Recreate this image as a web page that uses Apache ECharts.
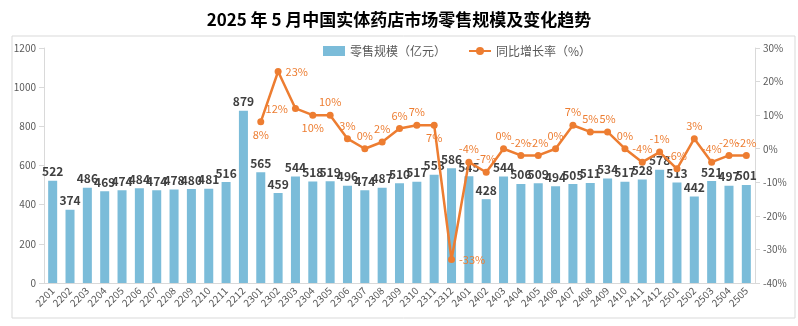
<!DOCTYPE html>
<html><head><meta charset="utf-8">
<script src="https://cdn.jsdelivr.net/npm/echarts@6/dist/echarts.min.js"></script>
<style>html,body{margin:0;padding:0;background:#fff}#c{width:798px;height:326px}</style>
</head><body><div id="c"></div>
<script>
const categories = ['2201','2202','2203','2204','2205','2206','2207','2208','2209','2210','2211','2212','2301','2302','2303','2304','2305','2306','2307','2308','2309','2310','2311','2312','2401','2402','2403','2404','2405','2406','2407','2408','2409','2410','2411','2412','2501','2502','2503','2504','2505'];
const retail = [522,374,486,469,474,484,474,478,480,481,516,879,565,459,544,518,519,496,474,487,510,517,553,586,545,428,544,506,509,494,505,511,534,517,528,578,513,442,521,497,501];
const growth = [null,null,null,null,null,null,null,null,null,null,null,null,8,23,12,10,10,3,0,2,6,7,7,-33,-4,-7,0,-2,-2,0,7,5,5,0,-4,-1,-6,3,-4,-2,-2];
const growthLabelPos = {12:'bottom',13:'right',14:'left',15:'bottom',16:'top',17:'top',18:'top',19:'top',20:'top',21:'top',22:'bottom',23:'right'};

const chart = echarts.init(document.getElementById('c'));
const font = '"Microsoft YaHei","Noto Sans CJK SC",sans-serif';
chart.setOption({
  animation:false,
  textStyle:{fontFamily:font},
  title:{text:'2025 年 5 月中国实体药店市场零售规模及变化趋势',left:'center',top:6,
    textStyle:{fontSize:17,fontWeight:'bold',color:'#000',fontFamily:font}},
  graphic:[{type:'rect',shape:{x:12,y:36,width:783,height:282},style:{fill:'none',stroke:'#d9d9d9',lineWidth:1},silent:true}],
  legend:{top:40,left:318,itemGap:22,itemWidth:22,itemHeight:10,
    textStyle:{fontSize:12,color:'#595959'},
    data:[{name:'零售规模（亿元）',icon:'rect'},{name:'同比增长率（%）'}]},
  grid:{left:44,right:43,top:48,bottom:43},
  xAxis:{type:'category',data:categories,
    axisLine:{lineStyle:{color:'#d9d9d9'}},axisTick:{show:false},
    axisLabel:{rotate:45,fontSize:10,color:'#595959',interval:0,margin:6}},
  yAxis:[
    {type:'value',min:0,max:1200,interval:200,splitLine:{show:false},
      axisLine:{show:true,lineStyle:{color:'#d9d9d9'}},axisTick:{show:true,lineStyle:{color:'#d9d9d9'}},
      axisLabel:{fontSize:10,color:'#595959',formatter:v=>String(v)}},
    {type:'value',min:-40,max:30,interval:10,splitLine:{show:false},
      axisLine:{show:true,lineStyle:{color:'#d9d9d9'}},axisTick:{show:true,lineStyle:{color:'#d9d9d9'}},
      axisLabel:{fontSize:10,color:'#595959',formatter:v=>v+'%'}}
  ],
  series:[
    {name:'零售规模（亿元）',type:'bar',data:retail,barWidth:'52%',
      itemStyle:{color:'#7bbcd9'},
      label:{show:true,position:'top',fontSize:12,fontWeight:'bold',color:'#404040',distance:3}},
    {name:'同比增长率（%）',type:'line',yAxisIndex:1,
      data:growth.map((v,i)=>v===null?null:{value:v,label:{position:growthLabelPos[i]||'top'}}),
      connectNulls:false,symbol:'circle',symbolSize:7,
      lineStyle:{color:'#ed7d31',width:2.5},itemStyle:{color:'#ed7d31'},
      label:{show:true,formatter:'{c}%',fontSize:11,color:'#ed7d31',distance:4}}
  ]
});
</script></body></html>
